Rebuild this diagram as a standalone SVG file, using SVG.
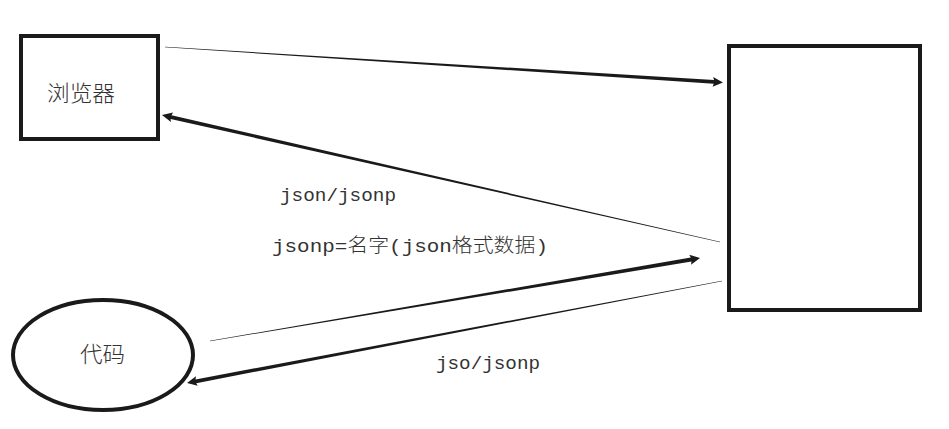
<svg xmlns="http://www.w3.org/2000/svg" width="949" height="429" viewBox="0 0 949 429">
<style>
.box{fill:#fff;stroke:#1a1a1a;stroke-width:4}
.conn{fill:#1a1a1a;stroke:none}
.cjk{font-family:"Noto Sans CJK SC","Noto Sans",sans-serif;font-size:22px;font-weight:300;fill:#333}
.lbl{font-family:"Liberation Mono","Noto Sans CJK SC",monospace;font-size:19px;fill:#333}
.lbl tspan{font-family:"Noto Sans CJK SC",sans-serif;font-weight:300}
</style>
<rect width="949" height="429" fill="#fff"/>
<g id="connectors">
<polygon class="conn" transform="translate(165,47) rotate(3.64)" points="0,-0.2 550,-1.9 549,-4.8 559.1,0 549,4.8 550,1.9 0,0.2"/>
<polygon class="conn" transform="translate(720,242) rotate(192.82)" points="0,-0.2 563,-1.9 562,-4.8 572.3,0 562,4.8 563,1.9 0,0.2"/>
<polygon class="conn" transform="translate(210,341) rotate(-9.61)" points="0,-0.2 488,-2.1 487,-5 497,0 487,5 488,2.1 0,0.2"/>
<polygon class="conn" transform="translate(722,281) rotate(169.21)" points="0,-0.2 535.6,-1.9 534.6,-4.8 544.6,0 534.6,4.8 535.6,1.9 0,0.2"/>
</g>
<g id="browser">
<rect class="box" x="21" y="36" width="137" height="103"/>
<text class="cjk" x="47" y="101" textLength="68" lengthAdjust="spacingAndGlyphs">浏览器</text>
</g>
<g id="server">
<rect class="box" x="729" y="46" width="191" height="264"/>
</g>
<g id="code">
<ellipse class="box" cx="103" cy="355" rx="90" ry="55"/>
<text class="cjk" x="80" y="362" textLength="45" lengthAdjust="spacingAndGlyphs">代码</text>
</g>
<g id="labels">
<text class="lbl" x="280" y="201" textLength="116" lengthAdjust="spacingAndGlyphs">json/jsonp</text>
<text class="lbl" x="272" y="252" textLength="276" lengthAdjust="spacingAndGlyphs">jsonp=<tspan>名字</tspan>(json<tspan>格式数据</tspan>)</text>
<text class="lbl" x="436" y="369" textLength="104" lengthAdjust="spacingAndGlyphs">jso/jsonp</text>
</g>
</svg>
